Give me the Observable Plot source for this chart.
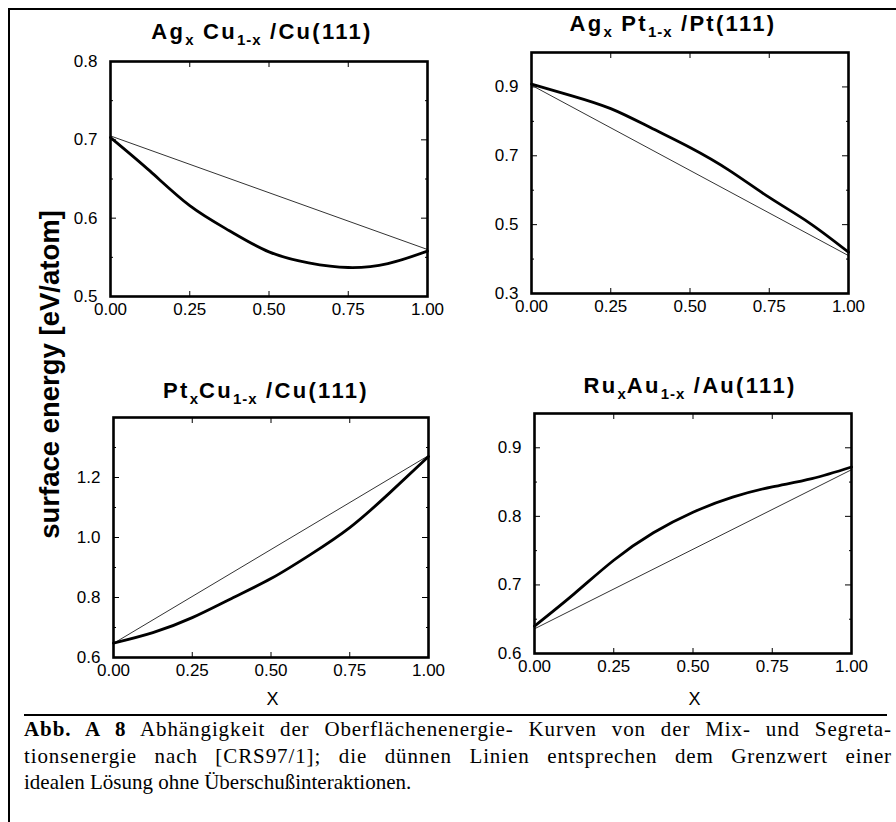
<!DOCTYPE html>
<html><head><meta charset="utf-8">
<script src="https://cdn.jsdelivr.net/npm/d3@7"></script>
<script src="https://cdn.jsdelivr.net/npm/@observablehq/plot@0.6"></script>
<style>
body{margin:0;background:#fff;}
#fig{position:relative;width:896px;height:822px;overflow:hidden;font-family:"Liberation Sans",Arial,sans-serif;color:#000;}
.border{position:absolute;left:8px;top:8px;width:900px;height:900px;border-left:2px solid #000;border-top:2px solid #000;}
.title{position:absolute;transform:translateX(-50%);font-weight:bold;font-size:22px;line-height:22px;white-space:nowrap;letter-spacing:2.3px;}
.title sub{font-size:15px;vertical-align:-6px;line-height:0;letter-spacing:1px;}
.panel{position:absolute;}
.ylab{position:absolute;width:400px;height:27px;line-height:27px;font-size:27.5px;font-weight:bold;text-align:center;transform:rotate(-90deg);white-space:nowrap;}
.xlab{position:absolute;transform:translateX(-50%);font-size:18px;line-height:18px;}
.rule{position:absolute;left:24px;top:714px;width:863px;height:2px;background:#000;}
.cap{position:absolute;left:24px;top:716px;width:868px;font-family:"Liberation Serif","Times New Roman",serif;font-size:21px;line-height:26.5px;}
.cap .j{text-align:justify;text-align-last:justify;letter-spacing:0.9px;}
</style>
</head><body>
<div id="fig">
  <div class="border"></div>
</div>
<script>
// ---- data ----
const xs = [0, 0.125, 0.25, 0.375, 0.5, 0.625, 0.75, 0.875, 1];
const xIdeal = [0, 1];
const xTicks = [0, 0.25, 0.5, 0.75, 1];

// Ag_x Cu_1-x / Cu(111)
const agcuCurve = [0.703, 0.660, 0.616, 0.584, 0.557, 0.543, 0.537, 0.542, 0.558];
const agcuIdeal = [0.705, 0.560];
// Ag_x Pt_1-x / Pt(111)
const agptCurve = [0.908, 0.875, 0.837, 0.782, 0.724, 0.657, 0.579, 0.506, 0.420];
const agptIdeal = [0.905, 0.410];
// Pt_x Cu_1-x / Cu(111)
const ptcuCurve = [0.648, 0.683, 0.733, 0.797, 0.863, 0.943, 1.033, 1.147, 1.270];
const ptcuIdeal = [0.647, 1.273];
// Ru_x Au_1-x / Au(111)
const ruauCurve = [0.640, 0.687, 0.736, 0.776, 0.806, 0.828, 0.843, 0.855, 0.872];
const ruauIdeal = [0.636, 0.868];

const panels = [
  {title: 'Ag<sub>x</sub> Cu<sub>1-x</sub> /Cu(111)', tx: 262, ty: 21,
   left: 110, top: 61, fw: 317, fh: 235, yDomain: [0.5, 0.8],
   yLabels: [0.5, 0.6, 0.7, 0.8], yMajor: [0.6, 0.7], yMinor: [0.55, 0.65, 0.75],
   curve: agcuCurve, ideal: agcuIdeal, fmt: ".1f"},
  {title: 'Ag<sub>x</sub> Pt<sub>1-x</sub> /Pt(111)', tx: 673, ty: 13,
   left: 531, top: 52, fw: 317, fh: 241, yDomain: [0.3, 1.0],
   yLabels: [0.3, 0.5, 0.7, 0.9], yMajor: [0.5, 0.7, 0.9], yMinor: [0.4, 0.6, 0.8],
   curve: agptCurve, ideal: agptIdeal, fmt: ".1f"},
  {title: 'Pt<sub>x</sub>Cu<sub>1-x</sub> /Cu(111)', tx: 266, ty: 380,
   left: 113, top: 417, fw: 315, fh: 240, yDomain: [0.6, 1.4],
   yLabels: [0.6, 0.8, 1.0, 1.2], yMajor: [0.8, 1.0, 1.2], yMinor: [0.7, 0.9, 1.1, 1.3],
   curve: ptcuCurve, ideal: ptcuIdeal, fmt: ".1f", xlab: true},
  {title: 'Ru<sub>x</sub>Au<sub>1-x</sub> /Au(111)', tx: 690, ty: 375,
   left: 534, top: 413, fw: 317, fh: 240, yDomain: [0.6, 0.95],
   yLabels: [0.6, 0.7, 0.8, 0.9], yMajor: [0.7, 0.8, 0.9], yMinor: [0.65, 0.75, 0.85],
   curve: ruauCurve, ideal: ruauIdeal, fmt: ".1f", xlab: true}
];

const fig = document.getElementById("fig");
const mL = 60, mR = 12, mT = 10, mB = 32;
const tickOnly = {fill: "none", label: null};

for (const p of panels) {
  const curveData = xs.map((x, i) => ({x, y: p.curve[i]}));
  const idealData = xIdeal.map((x, i) => ({x, y: p.ideal[i]}));
  const chart = Plot.plot({
    width: p.fw + mL + mR, height: p.fh + mT + mB,
    marginLeft: mL, marginRight: mR, marginTop: mT, marginBottom: mB,
    x: {domain: [0, 1]},
    y: {domain: p.yDomain},
    style: {fontFamily: '"Liberation Sans", Arial, sans-serif', fontSize: "17px", color: "#000", background: "transparent", overflow: "visible"},
    marks: [
      Plot.axisX(xTicks, {anchor: "bottom", tickSize: 0, tickPadding: 6, tickFormat: d3.format(".2f"), label: null}),
      Plot.axisX(xTicks, {anchor: "bottom", tickSize: -5, ...tickOnly}),
      Plot.axisX(xTicks, {anchor: "top", tickSize: -5, ...tickOnly}),
      Plot.axisY(p.yLabels, {anchor: "left", tickSize: 0, tickPadding: 13, tickFormat: d3.format(p.fmt), label: null}),
      Plot.axisY(p.yMajor, {anchor: "left", tickSize: -6, ...tickOnly}),
      Plot.axisY(p.yMajor, {anchor: "right", tickSize: -7, ...tickOnly}),
      Plot.axisY(p.yMinor, {anchor: "left", tickSize: -3, ...tickOnly}),
      Plot.axisY(p.yMinor, {anchor: "right", tickSize: -3, ...tickOnly}),
      Plot.line(idealData, {x: "x", y: "y", stroke: "#333", strokeWidth: 1}),
      Plot.line(curveData, {x: "x", y: "y", stroke: "#000", strokeWidth: 2.8, curve: "natural"}),
      Plot.frame({stroke: "#000", strokeWidth: 2.6})
    ]
  });
  const wrap = document.createElement("div");
  wrap.className = "panel";
  wrap.style.left = (p.left - mL) + "px";
  wrap.style.top = (p.top - mT) + "px";
  wrap.appendChild(chart);
  fig.appendChild(wrap);

  const t = document.createElement("div");
  t.className = "title";
  t.style.left = p.tx + "px";
  t.style.top = p.ty + "px";
  t.innerHTML = p.title;
  fig.appendChild(t);

  if (p.xlab) {
    const xl = document.createElement("div");
    xl.className = "xlab";
    xl.style.left = (p.left + p.fw / 2 + 2) + "px";
    xl.style.top = "690px";
    xl.textContent = "X";
    fig.appendChild(xl);
  }
}

const yl = document.createElement("div");
yl.className = "ylab";
yl.style.left = (49 - 200) + "px";
yl.style.top = (374 - 13.5) + "px";
yl.textContent = "surface energy [eV/atom]";
fig.appendChild(yl);

const rule = document.createElement("div");
rule.className = "rule";
fig.appendChild(rule);

const cap = document.createElement("div");
cap.className = "cap";
cap.innerHTML =
  '<div class="j"><b>Abb. A 8</b> Abhängigkeit der Oberflächenenergie- Kurven von der Mix- und Segreta-</div>' +
  '<div class="j">tionsenergie nach [CRS97/1]; die dünnen Linien entsprechen dem Grenzwert einer</div>' +
  '<div>idealen Lösung ohne Überschußinteraktionen.</div>';
fig.appendChild(cap);
</script>
</body></html>
